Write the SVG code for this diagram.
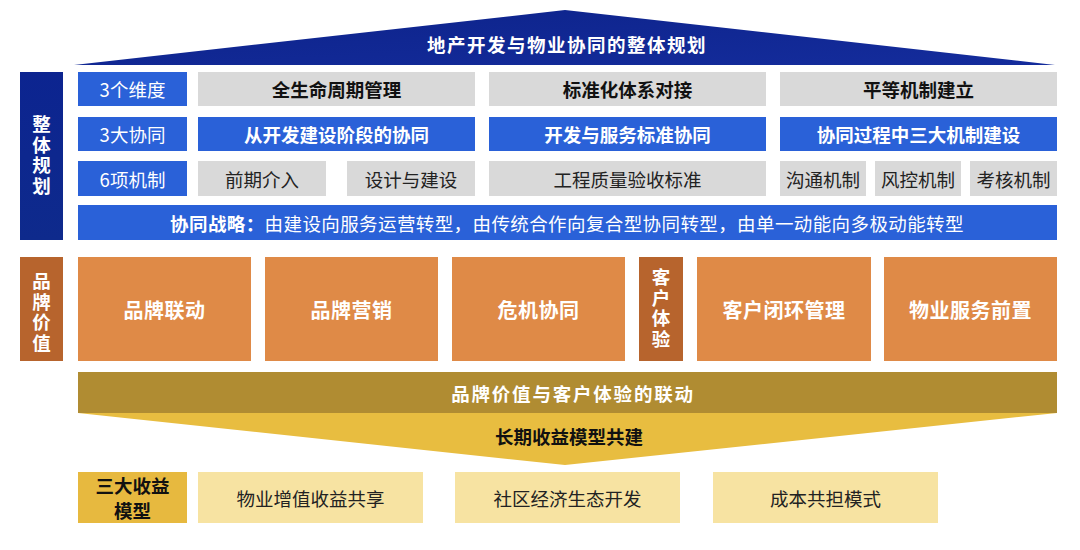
<svg xmlns="http://www.w3.org/2000/svg" width="1080" height="550" viewBox="0 0 1080 550">
<defs>
<linearGradient id="navy" x1="0" y1="0" x2="1" y2="1">
<stop offset="0" stop-color="#0d238a"/><stop offset="1" stop-color="#142c9c"/>
</linearGradient>
<linearGradient id="navyCol" x1="0" y1="0" x2="0" y2="1">
<stop offset="0" stop-color="#0c2490"/><stop offset="1" stop-color="#0e2a8c"/>
</linearGradient>
<style>
text{font-family:"Noto Sans CJK SC","Noto Sans",sans-serif;text-anchor:middle;dominant-baseline:central}
.vert{writing-mode:vertical-rl;text-orientation:upright;letter-spacing:2px}
.blue{fill:#2a61d8}
.gray{fill:#d9d9d9}
.org{fill:#df8a47}
.brn{fill:#b7642d}
.ly{fill:#f7e3a2}
.wb{fill:#fff;font-weight:700;font-size:18.5px}
.kb{fill:#111;font-weight:700;font-size:18.5px}
.wn{fill:#fff;font-size:18.5px}
.kn{fill:#222;font-size:18.5px}
.ob{fill:#fff;font-weight:700;font-size:20px;letter-spacing:0.5px}
</style>
</defs>
<g id="roof">
<polygon points="74,65 565,10 1055,65" fill="url(#navy)"/>
<text x="567" y="44" class="wb" font-size="20" letter-spacing="1.5">地产开发与物业协同的整体规划</text>
</g>
<g id="planning-label">
<rect x="20" y="72" width="43" height="168" fill="url(#navyCol)"/>
<text x="41.5" y="156" class="wb vert" font-size="18">整体规划</text>
</g>
<g id="row-dimensions">
<rect x="78" y="72" width="109" height="34" class="blue"/>
<text x="132.5" y="89" class="wn">3个维度</text>
<rect x="198" y="72" width="277" height="34" class="gray"/>
<text x="336.5" y="89" class="kb">全生命周期管理</text>
<rect x="489" y="72" width="277" height="34" class="gray"/>
<text x="627.5" y="89" class="kb">标准化体系对接</text>
<rect x="780" y="72" width="277" height="34" class="gray"/>
<text x="918.5" y="89" class="kb">平等机制建立</text>
</g>
<g id="row-synergy">
<rect x="78" y="117" width="109" height="34" class="blue"/>
<text x="132.5" y="134" class="wn">3大协同</text>
<rect x="198" y="117" width="277" height="34" class="blue"/>
<text x="336.5" y="134" class="wb">从开发建设阶段的协同</text>
<rect x="489" y="117" width="277" height="34" class="blue"/>
<text x="627.5" y="134" class="wb">开发与服务标准协同</text>
<rect x="780" y="117" width="277" height="34" class="blue"/>
<text x="918.5" y="134" class="wb">协同过程中三大机制建设</text>
</g>
<g id="row-mechanisms">
<rect x="78" y="161" width="109" height="35" class="blue"/>
<text x="132.5" y="178.5" class="wn">6项机制</text>
<rect x="198" y="161" width="128" height="35" class="gray"/>
<text x="262" y="178.5" class="kn">前期介入</text>
<rect x="347" y="161" width="128" height="35" class="gray"/>
<text x="411" y="178.5" class="kn">设计与建设</text>
<rect x="489" y="161" width="277" height="35" class="gray"/>
<text x="627.5" y="178.5" class="kn">工程质量验收标准</text>
<rect x="780" y="161" width="86" height="35" class="gray"/>
<text x="823" y="178.5" class="kn">沟通机制</text>
<rect x="875" y="161" width="86" height="35" class="gray"/>
<text x="918" y="178.5" class="kn">风控机制</text>
<rect x="970" y="161" width="87" height="35" class="gray"/>
<text x="1013.5" y="178.5" class="kn">考核机制</text>
</g>
<g id="strategy">
<rect x="78" y="205" width="979" height="35" class="blue"/>
<text x="567" y="222.5" class="wn" font-size="18" letter-spacing="0.4"><tspan font-weight="700">协同战略：</tspan>由建设向服务运营转型，由传统合作向复合型协同转型，由单一动能向多极动能转型</text>
</g>
<g id="brand-label">
<rect x="20" y="257" width="43" height="104" class="brn"/>
<text x="41.5" y="313" class="wb vert" font-size="18">品牌价值</text>
</g>
<g id="brand-row">
<rect x="78" y="257" width="173" height="104" class="org"/>
<text x="164.5" y="309" class="ob">品牌联动</text>
<rect x="265" y="257" width="173" height="104" class="org"/>
<text x="351.5" y="309" class="ob">品牌营销</text>
<rect x="452" y="257" width="173" height="104" class="org"/>
<text x="538.5" y="309" class="ob">危机协同</text>
</g>
<g id="customer-label">
<rect x="639" y="257" width="44" height="104" class="brn"/>
<text x="661" y="309" class="wb vert" font-size="18">客户体验</text>
</g>
<g id="customer-row">
<rect x="697" y="257" width="174" height="104" class="org"/>
<text x="784" y="309" class="ob">客户闭环管理</text>
<rect x="884" y="257" width="173" height="104" class="org"/>
<text x="970.5" y="309" class="ob">物业服务前置</text>
</g>
<g id="gold-band">
<polygon points="78,413 1057,413 565,465" fill="#e8bd40"/>
<rect x="78" y="372" width="979" height="41" fill="#b08c32"/>
<text x="573" y="393" class="wb" font-size="20" letter-spacing="1.8">品牌价值与客户体验的联动</text>
<text x="569" y="436" class="kb" font-size="20">长期收益模型共建</text>
</g>
<g id="revenue">
<rect x="78" y="472" width="109" height="51" fill="#e7b93f"/>
<text class="kb" font-size="17"><tspan x="132.5" y="485">三大收益</tspan><tspan x="132.5" y="509.5">模型</tspan></text>
<rect x="198" y="472" width="225" height="51" class="ly"/>
<text x="310.5" y="497.5" class="kn">物业增值收益共享</text>
<rect x="455" y="472" width="225" height="51" class="ly"/>
<text x="567.5" y="497.5" class="kn">社区经济生态开发</text>
<rect x="713" y="472" width="225" height="51" class="ly"/>
<text x="825.5" y="497.5" class="kn">成本共担模式</text>
</g>
<g id="connectors"/>
</svg>
